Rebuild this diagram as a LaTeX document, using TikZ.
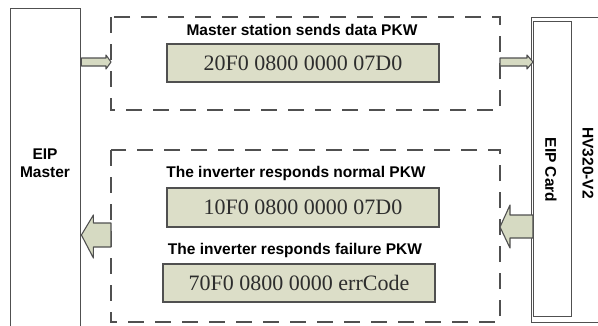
\documentclass[tikz,border=0pt]{standalone}
\usepackage{fontspec}
\setmainfont{Liberation Serif}
\newfontfamily\labfont{Liberation Sans}
\usetikzlibrary{calc}

\definecolor{edge}{RGB}{80,80,80}
\definecolor{paleolive}{RGB}{220,222,200}
\definecolor{arrowfill}{RGB}{214,218,194}
\definecolor{hextext}{RGB}{45,45,45}

\tikzset{
  unitbox/.style={draw=edge, line width=1.4pt, fill=white},
  groupbox/.style={draw=edge, line width=1.6pt, dash pattern=on 16pt off 11pt},
  pkwbox/.style={draw=edge, line width=1.4pt, fill=paleolive, inner sep=0pt,
                 font=\fontsize{22}{24}\selectfont, text=hextext},
  caption/.style={font=\labfont\bfseries\fontsize{15.5}{18}\selectfont, anchor=base, inner sep=0pt},
  blockarrow/.style={draw=edge, line width=1.1pt, fill=arrowfill, line join=round},
}

\begin{document}
\begin{tikzpicture}[x=1pt, y=-1pt]
\useasboundingbox (0,0) rectangle (598,325);

% EIP master unit on the left
\node[unitbox, anchor=north west, minimum width=70pt, minimum height=340pt] (master) at (10,8) {};
\node[font=\labfont\bfseries\fontsize{15.5}{18}\selectfont, align=center, inner sep=0pt] (mastertxt) at (45,163) {EIP\\Master};

% drive unit with its EIP card on the right
\node[unitbox, anchor=north west, minimum width=90pt, minimum height=305pt] (drive) at (531,17) {};
\node[unitbox, anchor=north west, minimum width=38pt, minimum height=295pt] (card) at (533,21) {};
\node[font=\labfont\bfseries\fontsize{15.5}{18}\selectfont, rotate=-90, inner sep=0pt] (cardtxt) at (551,170) {EIP Card};
\node[font=\labfont\bfseries\fontsize{15.5}{18}\selectfont, rotate=-90, inner sep=0pt] (drivetxt) at (588,163) {HV320-V2};

% request group
\draw[groupbox] (111,17) rectangle (500,110);
\coordinate (reqW) at (111,62);
\coordinate (reqE) at (500,62);
\node[caption] (reqcap) at (302,35) {Master station sends data PKW};
\node[pkwbox, minimum width=272pt, minimum height=38pt] (req) at (303,63) {20F0 0800 0000 07D0};

% response group
\draw[groupbox] (111,150) rectangle (500,322);
\node[caption] (okcap) at (296,177) {The inverter responds normal PKW};
\node[pkwbox, minimum width=272pt, minimum height=39pt] (ok) at (303,207.5) {10F0 0800 0000 07D0};
\node[caption] (errcap) at (295,254) {The inverter responds failure PKW};
\node[pkwbox, minimum width=272pt, minimum height=38pt] (err) at (299,283) {70F0 0800 0000 errCode};

% request arrows: master -> group -> card
\coordinate (a1) at (master.east |- reqW);
\draw[blockarrow] ($(a1)+(0,-4)$) -- ($(reqW)+(-5,-4)$) -- ($(reqW)+(-5,-7)$) -- (reqW)
  -- ($(reqW)+(-5,7)$) -- ($(reqW)+(-5,4)$) -- ($(a1)+(0,4)$) -- cycle;
\coordinate (a2) at (card.west |- reqE);
\draw[blockarrow] ($(reqE)+(0,-4)$) -- ($(a2)+(-6,-4)$) -- ($(a2)+(-6,-7)$) -- (a2)
  -- ($(a2)+(-6,7)$) -- ($(a2)+(-6,4)$) -- ($(reqE)+(0,4)$) -- cycle;

% response arrows: card -> group -> master
\coordinate (r1) at (card.west |- 0,227);
\coordinate (r1tip) at (500,227);
\draw[blockarrow] (r1) -- ($(r1)+(0,-12)$) -- ($(r1tip)+(10,-12)$) -- ($(r1tip)+(10,-22)$) -- (r1tip)
  -- ($(r1tip)+(10,21)$) -- ($(r1tip)+(10,11)$) -- ($(r1)+(0,11)$) -- cycle;
\coordinate (r2) at (111,235);
\coordinate (r2tip) at (master.east |- r2);
\draw[blockarrow] ($(r2)+(0,-12)$) -- ($(r2tip)+(12,-12)$) -- ($(r2tip)+(12,-20)$) -- (r2tip)
  -- ($(r2tip)+(12,23)$) -- ($(r2tip)+(12,12)$) -- ($(r2)+(0,12)$) -- cycle;
\end{tikzpicture}
\end{document}
